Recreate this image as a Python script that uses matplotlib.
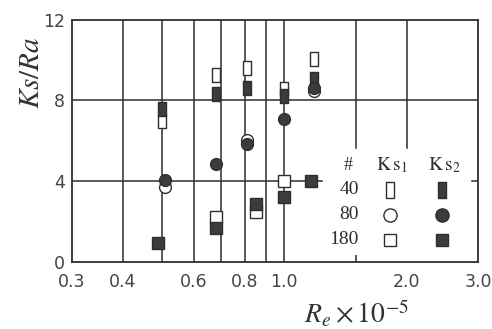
import numpy as np
import matplotlib
matplotlib.use('Agg')
import matplotlib.pyplot as plt
from matplotlib.path import Path
from matplotlib.ticker import FixedLocator, NullFormatter

plt.rcParams['mathtext.fontset'] = 'stix'

# Re x 10^-5 and Ks/Ra for each grit size (# 40, 80, 180)
re_40 = [0.50, 0.68, 0.81, 1.0, 1.18]
ks1_40 = [7.0, 9.25, 9.6, 8.55, 10.05]
ks2_40 = [7.6, 8.3, 8.6, 8.2, 9.05]

re_80_1 = [0.51, 0.81, 1.18]
ks1_80 = [3.7, 6.05, 8.45]
re_80_2 = [0.51, 0.68, 0.81, 1.0, 1.18]
ks2_80 = [4.05, 4.85, 5.85, 7.1, 8.6]

re_180_1 = [0.68, 0.85, 1.0]
ks1_180 = [2.2, 2.45, 4.0]
re_180_2 = [0.49, 0.68, 0.85, 1.0, 1.16]
ks2_180 = [0.95, 1.7, 2.85, 3.2, 4.0]

grits = ['40', '80', '180']
xtick_vals = [0.3, 0.4, 0.6, 0.8, 1.0, 2.0, 3.0]
xtick_labels = ['0.3', '0.4', '0.6', '0.8', '1.0', '2.0', '3.0']
ytick_vals = [0, 4, 8, 12]

ink = '#2e2e2e'
fill = '#3c3c3c'

# tall rectangle marker used for grit #40
tall = Path([(-0.27, -0.5), (0.27, -0.5), (0.27, 0.5), (-0.27, 0.5), (-0.27, -0.5)],
            [Path.MOVETO, Path.LINETO, Path.LINETO, Path.LINETO, Path.CLOSEPOLY])
markers = [tall, 'o', 's']
msizes = [10, 8.5, 8]

fig = plt.figure(figsize=(4.92, 3.29), dpi=100)
ax = fig.add_axes([0.146, 0.204, 0.826, 0.736])
ax.set_xscale('log')
ax.set_xlim(0.3, 3.0)
ax.set_ylim(0, 12)

# grid lines as drawn in the original
for v in [0.4, 0.5, 0.6, 0.7, 0.8, 0.9, 1.0]:
    ax.axvline(v, color=ink, lw=1.1, zorder=1)
for v in [1.5, 2.0]:
    ax.axvline(v, ymin=0.47, ymax=1, color=ink, lw=1.1, zorder=1)
ax.axhline(8, color=ink, lw=1.1, zorder=1)
ax.axhline(4, xmin=0, xmax=0.616, color=ink, lw=1.1, zorder=1)
ax.axhline(4, xmin=0.985, xmax=1, color=ink, lw=1.1, zorder=1)

# data
series = [
    (re_40, ks1_40, 0, False), (re_40, ks2_40, 0, True),
    (re_80_1, ks1_80, 1, False), (re_80_2, ks2_80, 1, True),
    (re_180_1, ks1_180, 2, False), (re_180_2, ks2_180, 2, True),
]
for xs, ys, g, filled in series:
    ax.plot(xs, ys, ls='none', marker=markers[g], ms=msizes[g],
            mfc=fill if filled else 'white', mec=ink, mew=1.0,
            zorder=3 if filled else 2)

# axes styling
for s in ax.spines.values():
    s.set_linewidth(1.3)
    s.set_color(ink)
ax.xaxis.set_major_locator(FixedLocator(xtick_vals))
ax.set_xticklabels(xtick_labels)
ax.xaxis.set_minor_locator(FixedLocator([1.5, 2.0]))
ax.xaxis.set_minor_formatter(NullFormatter())
ax.set_yticks(ytick_vals)
ax.tick_params(axis='both', which='major', length=0, labelsize=12.5,
               labelcolor='#444444', pad=5)
ax.tick_params(axis='x', which='major', pad=8)
ax.tick_params(axis='x', which='minor', direction='in', length=5,
               width=1.1, color=ink)

ax.set_ylabel(r'$Ks/Ra$', fontsize=21, color='#333333')
ax.yaxis.set_label_coords(-0.065, 0.78)
ax.set_xlabel(r'$R_e\times10^{-5}$', fontsize=20, color='#333333')
ax.xaxis.set_label_coords(0.70, -0.15)

# legend table
tr = ax.transAxes
ax.text(0.680, 0.40, '#', transform=tr, ha='center', va='center',
        fontsize=13, family='Liberation Serif', color=ink)
ax.text(0.788, 0.40, r'$\mathrm{K\,s}_{1}$', transform=tr, ha='center',
        va='center', fontsize=14, color=ink)
ax.text(0.916, 0.40, r'$\mathrm{K\,s}_{2}$', transform=tr, ha='center',
        va='center', fontsize=14, color=ink)
rows_y = [0.298, 0.194, 0.091]
for g, lab in enumerate(grits):
    ax.text(0.706, rows_y[g], lab, transform=tr, ha='right', va='center',
            fontsize=14, family='Liberation Serif', color=ink)
    ax.plot([0.783], [rows_y[g]], transform=tr, marker=markers[g],
            ms=msizes[g] + 1, mfc='white', mec=ink, mew=1.0, ls='none')
    ax.plot([0.911], [rows_y[g]], transform=tr, marker=markers[g],
            ms=msizes[g] + 1, mfc=fill, mec=ink, mew=1.0, ls='none')

fig.savefig('out.png', dpi=100)
